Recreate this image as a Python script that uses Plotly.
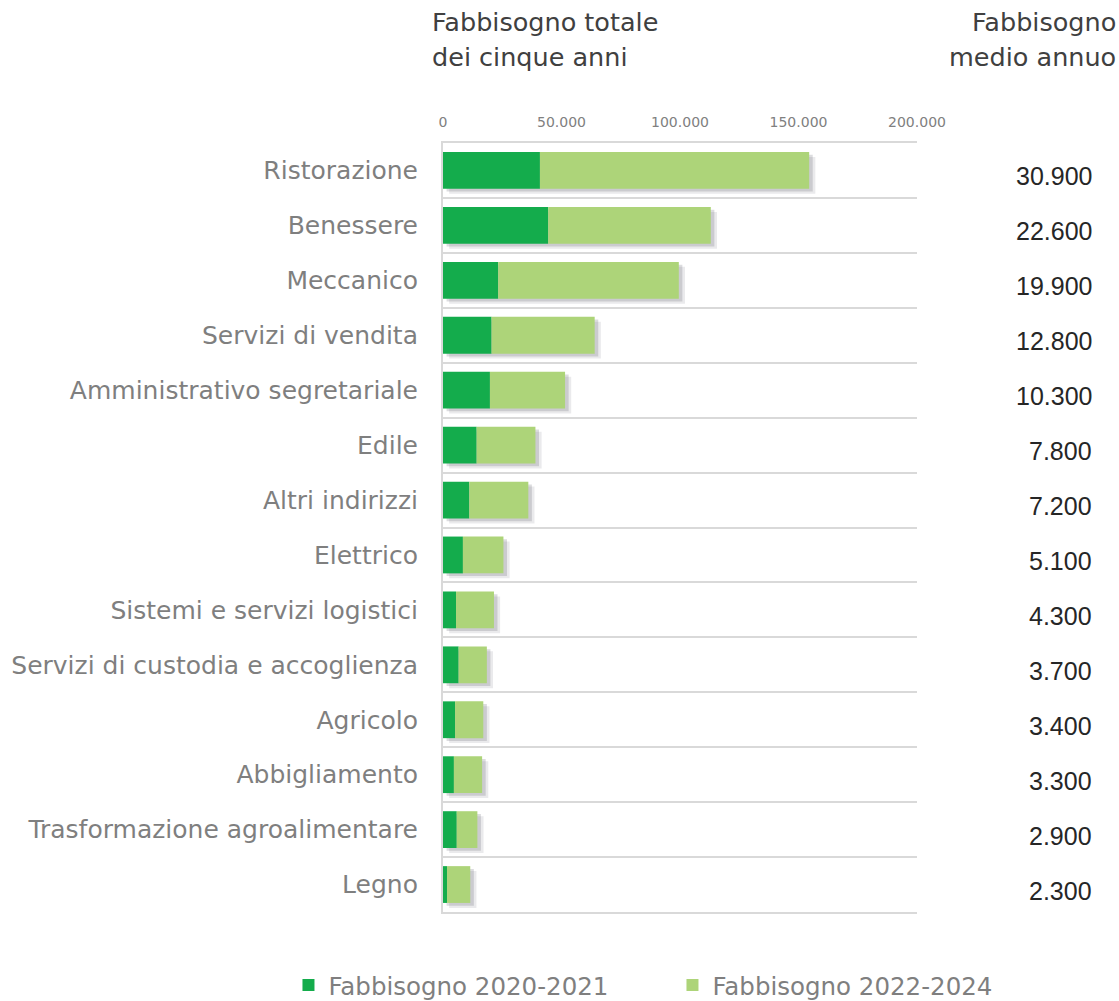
import plotly.graph_objects as go

categories = [
    "Ristorazione", "Benessere", "Meccanico", "Servizi di vendita",
    "Amministrativo segretariale", "Edile", "Altri indirizzi", "Elettrico",
    "Sistemi e servizi logistici", "Servizi di custodia e accoglienza",
    "Agricolo", "Abbigliamento", "Trasformazione agroalimentare", "Legno",
]
fabb_2020_2021 = [40900, 44400, 23300, 20500, 19800, 14200, 11100, 8400,
                  5500, 6600, 5100, 4600, 5800, 1700]
fabb_2022_2024 = [113600, 68600, 76200, 43500, 31700, 24800, 24900, 17100,
                  16000, 11900, 11900, 11900, 8700, 9800]
medio_annuo = [30900, 22600, 19900, 12800, 10300, 7800, 7200, 5100,
               4300, 3700, 3400, 3300, 2900, 2300]
tick_vals = [0, 50000, 100000, 150000, 200000]
tick_text = ["0", "50.000", "100.000", "150.000", "200.000"]

DARK = "#14AC4C"
LIGHT = "#ADD479"
LABEL_FONT = "DejaVu Sans"

totals = [a + b for a, b in zip(fabb_2020_2021, fabb_2022_2024)]
BW = 0.67

fig = go.Figure()
# soft drop shadow (two layers)
fig.add_trace(go.Bar(
    y=categories, x=totals, base=2600, orientation="h",
    width=BW, offset=-BW / 2 + 0.09,
    marker=dict(color="rgba(80,80,95,0.12)", line=dict(width=0)),
    showlegend=False, hoverinfo="skip",
))
fig.add_trace(go.Bar(
    y=categories, x=totals, base=1500, orientation="h",
    width=BW, offset=-BW / 2 + 0.05,
    marker=dict(color="rgba(80,80,95,0.2)", line=dict(width=0)),
    showlegend=False, hoverinfo="skip",
))
fig.add_trace(go.Bar(
    y=categories, x=fabb_2020_2021, orientation="h", name="Fabbisogno 2020-2021",
    width=BW, offset=-BW / 2,
    marker=dict(color=DARK, line=dict(width=0)),
))
fig.add_trace(go.Bar(
    y=categories, x=fabb_2022_2024, base=fabb_2020_2021, orientation="h",
    name="Fabbisogno 2022-2024", width=BW, offset=-BW / 2,
    marker=dict(color=LIGHT, line=dict(width=0)),
))

annotations = []
for cat, v in zip(categories, medio_annuo):
    annotations.append(dict(
        x=1.373, xref="paper", y=cat, yref="y", xanchor="right", yanchor="middle",
        yshift=-6, showarrow=False,
        text=f"{v:,}".replace(",", "."),
        font=dict(family="Liberation Sans", size=25, color="#262626"),
    ))

head_font = dict(family=LABEL_FONT, size=25.5, color="#404040")
annotations += [
    dict(x=-0.027, xref="paper", y=1.157, yref="paper", xanchor="left", yanchor="middle",
         text="Fabbisogno totale", showarrow=False, font=head_font),
    dict(x=-0.027, xref="paper", y=1.112, yref="paper", xanchor="left", yanchor="middle",
         text="dei cinque anni", showarrow=False, font=head_font),
    dict(x=1.424, xref="paper", y=1.157, yref="paper", xanchor="right", yanchor="middle",
         text="Fabbisogno", showarrow=False, font=head_font),
    dict(x=1.424, xref="paper", y=1.112, yref="paper", xanchor="right", yanchor="middle",
         text="medio annuo", showarrow=False, font=head_font),
]

fig.update_layout(
    width=1119, height=1001,
    margin=dict(l=443, r=202, t=143, b=89, autoexpand=False),
    paper_bgcolor="white", plot_bgcolor="white",
    barmode="overlay",
    showlegend=True,
    legend=dict(
        orientation="h", x=-0.326, xanchor="left", y=-0.095, yanchor="middle",
        entrywidth=339, entrywidthmode="pixels",
        font=dict(family=LABEL_FONT, size=24.5, color="#7f7f7f"),
        itemsizing="constant",
    ),
    annotations=annotations,
    xaxis=dict(
        range=[0, 200000], side="top", tickvals=tick_vals, ticktext=tick_text,
        showgrid=False, zeroline=False,
        showline=True, mirror=True, linecolor="#d9d9d9", linewidth=2,
        ticks="outside", ticklen=8, tickcolor="rgba(0,0,0,0)",
        tickfont=dict(family=LABEL_FONT, size=14, color="#808080"),
    ),
    yaxis=dict(
        autorange="reversed", tickson="boundaries",
        showgrid=True, gridcolor="#d9d9d9", gridwidth=2,
        showline=True, linecolor="#d9d9d9", linewidth=2,
        ticks="", ticklabelstandoff=18,
        tickfont=dict(family=LABEL_FONT, size=25, color="#7f7f7f"),
    ),
)

fig.write_html("out.html", config={"displayModeBar": False},
               post_script="document.body.style.margin='0px';")
